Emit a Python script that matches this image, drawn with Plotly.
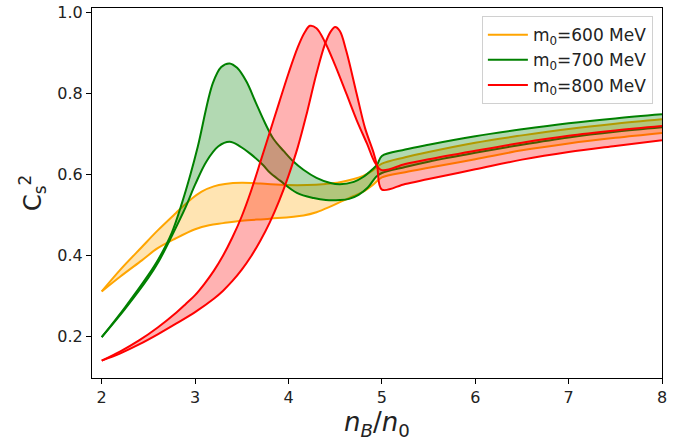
import plotly.graph_objects as go

# ---- data ----
# m0 = 600 MeV band
x600_hi = [2.0, 2.2, 2.43, 2.6, 2.79, 2.95, 3.07, 3.2, 3.32, 3.5, 3.7, 3.98, 4.2, 4.4, 4.55, 4.7, 4.8, 4.9, 5.0,
           5.25, 5.5, 6.0, 6.5, 7.0, 7.5, 8.0]
y600_hi = [0.311, 0.365, 0.421, 0.462, 0.504, 0.538, 0.558, 0.571, 0.577, 0.580, 0.578, 0.574, 0.574, 0.577, 0.581,
           0.589, 0.597, 0.610, 0.627, 0.643, 0.656, 0.679, 0.697, 0.713, 0.726, 0.737]
x600_lo = [2.0, 2.2, 2.43, 2.6, 2.79, 3.0, 3.15, 3.3, 3.5, 3.8, 4.16, 4.3, 4.44, 4.55, 4.7, 4.8, 4.9, 5.0,
           5.25, 5.5, 6.0, 6.5, 7.0, 7.5, 8.0]
y600_lo = [0.311, 0.348, 0.388, 0.418, 0.442, 0.465, 0.475, 0.480, 0.486, 0.491, 0.499, 0.507, 0.520, 0.532, 0.547,
           0.558, 0.574, 0.593, 0.606, 0.617, 0.638, 0.660, 0.677, 0.691, 0.703]

# m0 = 700 MeV band
x700_hi = [2.0, 2.25, 2.5, 2.61, 2.75, 2.86, 2.95, 3.03, 3.19, 3.28, 3.37, 3.45, 3.55, 3.65, 3.75, 3.84, 3.95, 4.05,
           4.16, 4.3, 4.44, 4.55, 4.7, 4.8, 4.9, 4.95, 5.0, 5.25, 5.5, 6.0, 6.5, 7.0, 7.5, 8.0]
y700_hi = [0.198, 0.272, 0.352, 0.392, 0.456, 0.530, 0.600, 0.670, 0.826, 0.866, 0.875, 0.864, 0.830, 0.778, 0.727,
           0.688, 0.658, 0.633, 0.612, 0.592, 0.580, 0.576, 0.582, 0.594, 0.613, 0.625, 0.646, 0.662, 0.674, 0.695,
           0.712, 0.727, 0.739, 0.749]
x700_lo = [2.0, 2.25, 2.5, 2.61, 2.75, 2.9, 3.0, 3.12, 3.25, 3.37, 3.48, 3.6, 3.73, 3.8, 3.91, 4.09, 4.27, 4.4, 4.55,
           4.65, 4.75, 4.85, 4.94, 5.0, 5.25, 5.5, 6.0, 6.5, 7.0, 7.5, 8.0]
y700_lo = [0.198, 0.268, 0.345, 0.385, 0.448, 0.520, 0.575, 0.632, 0.670, 0.681, 0.670, 0.650, 0.623, 0.605, 0.585,
           0.555, 0.542, 0.537, 0.537, 0.540, 0.550, 0.568, 0.595, 0.604, 0.619, 0.632, 0.654, 0.674, 0.692, 0.706,
           0.717]

# m0 = 800 MeV band
x800_a = [2.0, 2.2, 2.4, 2.6, 2.8, 2.9, 3.0, 3.1, 3.2, 3.3, 3.4, 3.5, 3.6, 3.7, 3.8, 3.9, 4.0, 4.1, 4.17, 4.23,
          4.3, 4.39, 4.5, 4.62, 4.73, 4.84, 4.93, 5.0, 5.25, 5.5, 6.0, 6.5, 7.0, 7.5, 8.0]
y800_a = [0.140, 0.163, 0.190, 0.222, 0.259, 0.280, 0.302, 0.330, 0.362, 0.400, 0.445, 0.497, 0.560, 0.632, 0.705,
          0.778, 0.850, 0.915, 0.950, 0.968, 0.962, 0.928, 0.870, 0.800, 0.735, 0.677, 0.628, 0.611, 0.626, 0.638,
          0.659, 0.679, 0.696, 0.709, 0.720]
x800_b = [2.0, 2.2, 2.4, 2.6, 2.8, 3.0, 3.2, 3.3, 3.4, 3.5, 3.6, 3.7, 3.8, 3.9, 4.0, 4.1, 4.2, 4.3, 4.39, 4.45,
          4.5, 4.55, 4.62, 4.73, 4.82, 4.91, 4.95, 5.0, 5.25, 5.5, 6.0, 6.5, 7.0, 7.5, 8.0]
y800_b = [0.140, 0.158, 0.180, 0.205, 0.232, 0.260, 0.293, 0.313, 0.337, 0.365, 0.398, 0.437, 0.482, 0.535, 0.597,
          0.668, 0.755, 0.850, 0.922, 0.953, 0.965, 0.955, 0.905, 0.800, 0.715, 0.655, 0.620, 0.563, 0.577, 0.589,
          0.613, 0.637, 0.656, 0.671, 0.685]

labels = ["m<sub>0</sub>=600 MeV", "m<sub>0</sub>=700 MeV", "m<sub>0</sub>=800 MeV"]
colors = ["orange", "green", "red"]
fills = ["rgba(255,165,0,0.3)", "rgba(0,128,0,0.3)", "rgba(255,0,0,0.3)"]

bands = [((x600_lo, y600_lo), (x600_hi, y600_hi)),
         ((x700_lo, y700_lo), (x700_hi, y700_hi)),
         ((x800_b, y800_b), (x800_a, y800_a))]

fig = go.Figure()
for (lo, hi), c, f in zip(bands, colors, fills):
    fig.add_trace(go.Scatter(x=lo[0], y=lo[1], mode="lines",
                             line=dict(color=c, width=2, shape="spline", smoothing=1.0),
                             showlegend=False, hoverinfo="skip"))
    fig.add_trace(go.Scatter(x=hi[0], y=hi[1], mode="lines", fill="tonexty", fillcolor=f,
                             line=dict(color=c, width=2, shape="spline", smoothing=1.0),
                             showlegend=False, hoverinfo="skip"))
for i, (lab, c) in enumerate(zip(labels, colors)):
    fig.add_trace(go.Scatter(x=[None], y=[None], mode="lines", name=lab, legendgroup=f"g{i}",
                             line=dict(color=c, width=2)))

axis_common = dict(showline=True, linecolor="black", linewidth=1, mirror=True,
                   ticks="outside", ticklen=5, tickwidth=1, tickcolor="black",
                   showgrid=False, zeroline=False, automargin=False,
                   tickfont=dict(family="DejaVu Sans", size=16, color="#222"))

fig.update_layout(
    width=689, height=443,
    margin=dict(l=92, r=27, t=8, b=65),
    plot_bgcolor="white", paper_bgcolor="white",
    xaxis=dict(range=[1.896, 8.0], tickvals=[2, 3, 4, 5, 6, 7, 8],
               title=dict(text="<i>n<sub>B</sub></i>/<i>n</i><sub>0</sub>",
                          font=dict(family="DejaVu Sans", size=26, color="#222"), standoff=2),
               **axis_common),
    yaxis=dict(range=[0.097, 1.012], tickvals=[0.2, 0.4, 0.6, 0.8, 1.0],
               ticktext=["0.2", "0.4", "0.6", "0.8", "1.0"],
               title=dict(text="C<sub>s</sub><sup>2</sup>",
                          font=dict(family="DejaVu Sans", size=24, color="#222"), standoff=8),
               **axis_common),
    legend=dict(x=0.984, y=0.978, xanchor="right", yanchor="top", traceorder="normal",
                bgcolor="rgba(255,255,255,0.8)", bordercolor="#d0d0d0", borderwidth=1,
                font=dict(family="DejaVu Sans", size=17, color="#222"),
                tracegroupgap=4, itemwidth=40),
)

fig.write_html("out.html", post_script="document.body.style.margin='0';",
               config={"displayModeBar": False})
